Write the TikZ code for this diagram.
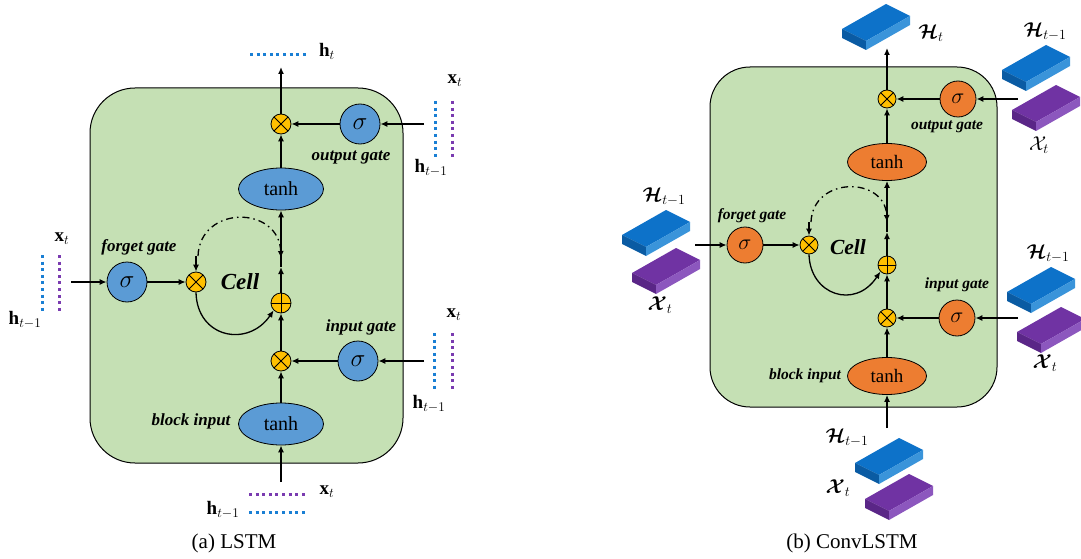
\RequirePackage{fix-cm}
\documentclass[tikz,border=0pt]{standalone}
\usepackage{amsmath}
\usepackage{fontspec}
\setmainfont{Liberation Serif}
\usetikzlibrary{arrows.meta,shapes.geometric,calc}
\definecolor{greenC}{HTML}{C5E0B4}
\definecolor{blueC}{HTML}{5B9BD5}
\definecolor{orangeC}{HTML}{ED7D31}
\definecolor{yellowC}{HTML}{FFC000}
\definecolor{dotB}{HTML}{1A7FD4}
\definecolor{dotP}{HTML}{7A3BB0}
\definecolor{sbTop}{HTML}{0D72C9}
\definecolor{sbLeft}{HTML}{0A5BA3}
\definecolor{sbRight}{HTML}{3A94DA}
\definecolor{spTop}{HTML}{7033A3}
\definecolor{spLeft}{HTML}{5A2687}
\definecolor{spRight}{HTML}{8C57BE}
\newcommand\myslab[2]{%
  \fill[#2Top] (#1) -- ++(44,-25) -- ++(24,12) -- ++(-44,25) -- cycle;
  \fill[#2Left] (#1) -- ++(24,12) -- ++(0,9) -- ++(-24,-12) -- cycle;
  \fill[#2Right] ($(#1)+(24,12)$) -- ++(44,-25) -- ++(0,9) -- ++(-44,25) -- cycle;
}
\tikzset{
  x=1pt, y=-1pt,
  cellbox/.style={draw, fill=greenC, line width=1pt, rounded corners=45pt, inner sep=0pt},
  gate/.style={circle, draw, line width=0.8pt, minimum size=40pt, inner sep=0pt, font=\fontsize{25}{25}\selectfont},
  gateR/.style={gate, minimum size=36pt, font=\fontsize{22}{22}\selectfont, fill=orangeC},
  gateL/.style={gate, fill=blueC},
  tanhL/.style={ellipse, draw, line width=0.8pt, fill=blueC, minimum width=85pt, minimum height=42pt, inner sep=0pt, font=\fontsize{20}{20}\selectfont},
  tanhR/.style={ellipse, draw, line width=0.8pt, fill=orangeC, minimum width=79pt, minimum height=37pt, inner sep=0pt, font=\fontsize{19}{19}\selectfont},
  op/.style={circle, draw, line width=0.8pt, fill=yellowC, minimum size=20pt, inner sep=0pt},
  opR/.style={op, minimum size=18pt},
  multsym/.style={path picture={\draw[line width=0.8pt] (path picture bounding box.north west)--(path picture bounding box.south east) (path picture bounding box.north east)--(path picture bounding box.south west);}},
  plussym/.style={path picture={\draw[line width=0.8pt] (path picture bounding box.north)--(path picture bounding box.south) (path picture bounding box.east)--(path picture bounding box.west);}},
  arr/.style={line width=1.3pt, -{Latex[length=7pt,width=6pt]}},
  dashdotline/.style={line width=1.3pt, dash pattern=on 7pt off 4pt on 1.5pt off 4pt, -{Latex[length=7pt,width=6pt]}},
  glab/.style={font=\fontsize{17}{17}\selectfont\bfseries\itshape},
  glabR/.style={font=\fontsize{15.5}{15.5}\selectfont\bfseries\itshape},
  celllab/.style={font=\fontsize{23}{23}\selectfont\bfseries\itshape},
  mlab/.style={font=\fontsize{19}{19}\selectfont},
  Hlab/.style={font=\fontsize{20}{20}\selectfont},
  bdot/.style={dotB, line width=3pt, dash pattern=on 3pt off 3.6pt},
  pdot/.style={dotP, line width=3pt, dash pattern=on 3pt off 3.6pt},
  captext/.style={font=\fontsize{21}{21}\selectfont}
}
\begin{document}
\begin{tikzpicture}
\useasboundingbox (0,0) rectangle (1081,559);
% ================= LSTM =================
\node[cellbox, minimum width=313pt, minimum height=375pt] (boxA) at (246.5,275.5) {};
\node[op,multsym] (omA) at (281,124) {};
\node[gateL] (osA) at (360,124) {$\sigma$};
\node[tanhL] (tuA) at (281,189) {tanh};
\node[gateL] (fsA) at (127,282) {$\sigma$};
\node[op,multsym] (fmA) at (196,282) {};
\node[op,plussym] (plA) at (281,303) {};
\node[op,multsym] (imA) at (281,361) {};
\node[gateL] (isA) at (358,361) {$\sigma$};
\node[tanhL] (btA) at (281,424) {tanh};
\coordinate (htA) at (281,67);
\coordinate (oinA) at (424,124);
\coordinate (finA) at (71,282);
\coordinate (iinA) at (424,361);
\coordinate (binA) at (281,482);
\coordinate (midA) at (281,267);
\coordinate (dsA) at (198,256);
\coordinate (deA) at (281,258);
\coordinate (dtA) at (196,256);
\draw[arr] (omA.north) -- (htA);
\draw[arr] (osA.west) -- (omA.east);
\draw[arr] (oinA) -- (osA.east);
\draw[arr] (tuA.north) -- (omA.south);
\draw[arr] (plA.north) -- (midA);
\draw[arr] (midA) -- (tuA.south);
\draw[dashdotline] (dsA) .. controls (200,205) and (279,205) .. (deA);
\draw[arr] (dtA) -- (fmA.north);
\draw[arr] (finA) -- (fsA.west);
\draw[arr] (fsA.east) -- (fmA.west);
\draw[arr] (fmA.south) .. controls (197,338) and (248,348) .. (plA.225);
\draw[arr] (imA.north) -- (plA.south);
\draw[arr] (isA.west) -- (imA.east);
\draw[arr] (iinA) -- (isA.east);
\draw[arr] (btA.north) -- (imA.south);
\draw[arr] (binA) -- (btA.south);
% labels
\node[glab] (ogA) at (351,158) {output gate};
\node[glab] (fgA) at (139,247) {forget gate};
\node[glab] (igA) at (361,327) {input gate};
\node[glab] (biA) at (191,421) {block input};
\node[celllab] (ceA) at (240,282) {Cell};
% dotted inputs
\draw[bdot] (250,55) -- (308,55);
\node[mlab] (hA) at (327,51) {$\mathbf{h}_t$};
\draw[bdot] (435,101) -- (435,158);
\draw[pdot] (452,101) -- (452,158);
\node[mlab] (x1A) at (455,81) {$\mathbf{x}_t$};
\node[mlab] (h1A) at (431,168) {$\mathbf{h}_{t-1}$};
\draw[bdot] (42,255) -- (42,312);
\draw[pdot] (59,255) -- (59,312);
\node[mlab] (x2A) at (62,239) {$\mathbf{x}_t$};
\node[mlab] (h2A) at (25,320) {$\mathbf{h}_{t-1}$};
\draw[bdot] (434,333) -- (434,390);
\draw[pdot] (452,333) -- (452,390);
\node[mlab] (x3A) at (454,315) {$\mathbf{x}_t$};
\node[mlab] (h3A) at (429,404) {$\mathbf{h}_{t-1}$};
\draw[pdot] (249,494) -- (308,494);
\draw[bdot] (249,512) -- (308,512);
\node[mlab] (x4A) at (327,492) {$\mathbf{x}_t$};
\node[mlab] (h4A) at (223,510) {$\mathbf{h}_{t-1}$};
\node[captext] (capA) at (234,543) {(a) LSTM};
% ================= ConvLSTM =================
\node[cellbox, rounded corners=40pt, minimum width=287pt, minimum height=340pt] (boxB) at (853.5,237) {};
\node[opR,multsym] (omB) at (887,99) {};
\node[gateR] (osB) at (958,99) {$\sigma$};
\node[tanhR] (tuB) at (887,162) {tanh};
\node[gateR] (fsB) at (745,245) {$\sigma$};
\node[opR,multsym] (fmB) at (809,245) {};
\node[opR,plussym] (plB) at (887,265) {};
\node[opR,multsym] (imB) at (887,318) {};
\node[gateR] (isB) at (957,318) {$\sigma$};
\node[tanhR] (btB) at (887,376) {tanh};
\coordinate (htB) at (887,48);
\coordinate (oinB) at (1018,99);
\coordinate (finB) at (695,245);
\coordinate (iinB) at (1018,318);
\coordinate (binB) at (887,428);
\coordinate (midB) at (887,232);
\coordinate (dsB) at (811,222);
\coordinate (deB) at (887,222);
\coordinate (dtB) at (809,222);
\draw[arr] (omB.north) -- (htB);
\draw[arr] (osB.west) -- (omB.east);
\draw[arr] (oinB) -- (osB.east);
\draw[arr] (tuB.north) -- (omB.south);
\draw[arr] (plB.north) -- (midB);
\draw[arr] (midB) -- (tuB.south);
\draw[dashdotline] (dsB) .. controls (813,176) and (885,176) .. (deB);
\draw[arr] (dtB) -- (fmB.north);
\draw[arr] (finB) -- (fsB.west);
\draw[arr] (fsB.east) -- (fmB.west);
\draw[arr] (fmB.south) .. controls (810,295) and (855,310) .. (plB.225);
\draw[arr] (imB.north) -- (plB.south);
\draw[arr] (isB.west) -- (imB.east);
\draw[arr] (iinB) -- (isB.east);
\draw[arr] (btB.north) -- (imB.south);
\draw[arr] (binB) -- (btB.south);
\node[glabR] (ogB) at (947,127) {output gate};
\node[glabR] (fgB) at (752,216) {forget gate};
\node[glabR] (igB) at (957,285) {input gate};
\node[glabR] (biB) at (805,376) {block input};
\node[celllab, font=\fontsize{21.5}{21.5}\selectfont\bfseries\itshape] (ceB) at (848,247) {Cell};
% slabs
\myslab{842,29}{sb}
\node[Hlab] (HtB) at (931,33) {$\boldsymbol{\mathcal{H}}_t$};
\myslab{1002,70}{sb}
\myslab{1012,110}{sp}
\node[Hlab] (H1B) at (1045,32) {$\boldsymbol{\mathcal{H}}_{t-1}$};
\node[Hlab] (X1B) at (1039,145) {$\mathcal{X}_t$};
\myslab{622,235}{sb}
\myslab{632,273}{sp}
\node[Hlab] (H2B) at (664,197) {$\boldsymbol{\mathcal{H}}_{t-1}$};
\node[Hlab] (X2B) at (660,305) {$\boldsymbol{\mathcal{X}}_t$};
\myslab{1007,292}{sb}
\myslab{1017,332}{sp}
\node[Hlab] (H3B) at (1048,254) {$\boldsymbol{\mathcal{H}}_{t-1}$};
\node[Hlab] (X3B) at (1045,363) {$\boldsymbol{\mathcal{X}}_t$};
\myslab{855,463}{sb}
\myslab{865,499}{sp}
\node[Hlab] (H4B) at (847,438) {$\boldsymbol{\mathcal{H}}_{t-1}$};
\node[Hlab] (X4B) at (838,488) {$\boldsymbol{\mathcal{X}}_t$};
\node[captext] (capB) at (852,543) {(b) ConvLSTM};
\end{tikzpicture}
\end{document}
